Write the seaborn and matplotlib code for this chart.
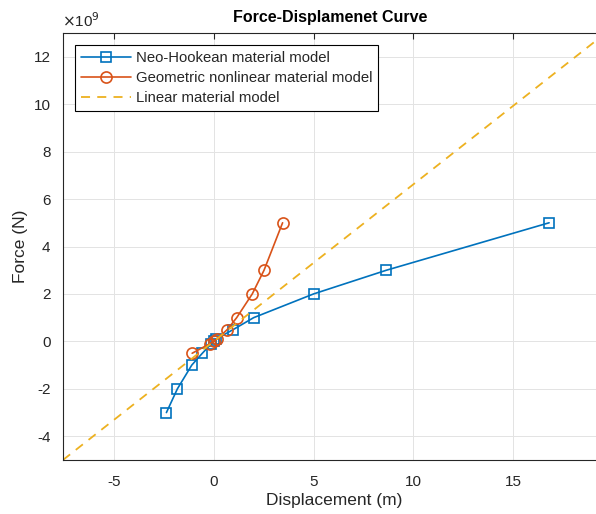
import numpy as np
import pandas as pd
import matplotlib
matplotlib.use("Agg")
import matplotlib.pyplot as plt
import seaborn as sns
from matplotlib.ticker import FuncFormatter

# Data (force in N, displacement in m)
neo_disp = [-2.37, -1.82, -1.10, -0.57, -0.12, 0.0, 0.12, 0.98, 2.0, 5.0, 8.65, 16.8]
neo_force = [-3e9, -2e9, -1e9, -0.5e9, -0.1e9, 0.0, 0.1e9, 0.5e9, 1e9, 2e9, 3e9, 5e9]
geo_disp = [-1.08, -0.2, 0.0, 0.17, 0.68, 1.15, 1.93, 2.52, 3.45]
geo_force = [-0.5e9, -0.1e9, 0.0, 0.1e9, 0.5e9, 1e9, 2e9, 3e9, 5e9]
lin_disp = [-7.55, 19.6]
lin_stiffness = 0.662e9
lin_force = [d * lin_stiffness for d in lin_disp]

labels = ["Neo-Hookean material model", "Geometric nonlinear material model", "Linear material model"]
xticks = [-5, 0, 5, 10, 15]
yticks = [-4e9, -2e9, 0, 2e9, 4e9, 6e9, 8e9, 10e9, 12e9]

sns.set_theme(style="whitegrid")
plt.rcParams['font.family'] = ['Liberation Sans', 'DejaVu Sans']
plt.rcParams['axes.unicode_minus'] = False

blue = "#0072BD"
orange = "#D95319"
yellow = "#EDB120"
dark = "#262626"

fig = plt.figure(figsize=(5.96, 5.14), dpi=100)
ax = fig.add_axes([63/596, 54/514, (605-63)/596, (460-33)/514])

df_neo = pd.DataFrame({"d": neo_disp, "f": neo_force})
df_geo = pd.DataFrame({"d": geo_disp, "f": geo_force})
df_lin = pd.DataFrame({"d": lin_disp, "f": lin_force})

sns.lineplot(data=df_neo, x="d", y="f", sort=False, ax=ax, color=blue, lw=1.2,
             marker="s", markersize=6.5, markerfacecolor="none", markeredgecolor=blue,
             markeredgewidth=1.2, label=labels[0])
sns.lineplot(data=df_geo, x="d", y="f", sort=False, ax=ax, color=orange, lw=1.2,
             marker="o", markersize=8, markerfacecolor="none", markeredgecolor=orange,
             markeredgewidth=1.2, label=labels[1])
sns.lineplot(data=df_lin, x="d", y="f", sort=False, ax=ax, color=yellow, lw=1.3,
             linestyle=(0, (5, 4)), label=labels[2])

ax.set_xlim(-7.55, (605-213)/20)
ax.set_ylim(-5e9, 13e9)
ax.set_xticks(xticks)
ax.set_yticks(yticks)
ax.yaxis.set_major_formatter(FuncFormatter(lambda v, p: f"{v/1e9:g}"))
ax.text(-0.002, 1.008, r"$\times$10$^{9}$", transform=ax.transAxes, ha="left", va="bottom",
        fontsize=11, color=dark)

ax.grid(True, color="#e3e3e3", lw=0.7)
for s in ax.spines.values():
    s.set_color(dark)
    s.set_linewidth(0.8)
ax.tick_params(direction="in", length=4, width=0.8, colors=dark, labelsize=11,
               top=True, right=True)
ax.tick_params(axis="x", pad=11)
ax.tick_params(axis="y", pad=9)

ax.set_xlabel("Displacement (m)", fontsize=12.5, color=dark, labelpad=3)
ax.set_ylabel("Force (N)", fontsize=12.5, color=dark, labelpad=4)
ax.set_title("Force-Displamenet Curve", fontsize=11.5, fontweight="bold", color="black", pad=8,
             x=(330-63)/(605-63))

leg = ax.legend(loc="upper left", bbox_to_anchor=(0.022, 0.972), fontsize=10.7,
                frameon=True, fancybox=False, edgecolor="black", framealpha=1,
                handlelength=3.4, borderpad=0.4, labelspacing=0.42, handletextpad=0.3,
                borderaxespad=0.0)
leg.get_frame().set_linewidth(0.8)
for t in leg.get_texts():
    t.set_color(dark)

fig.savefig("out.png", dpi=100)
